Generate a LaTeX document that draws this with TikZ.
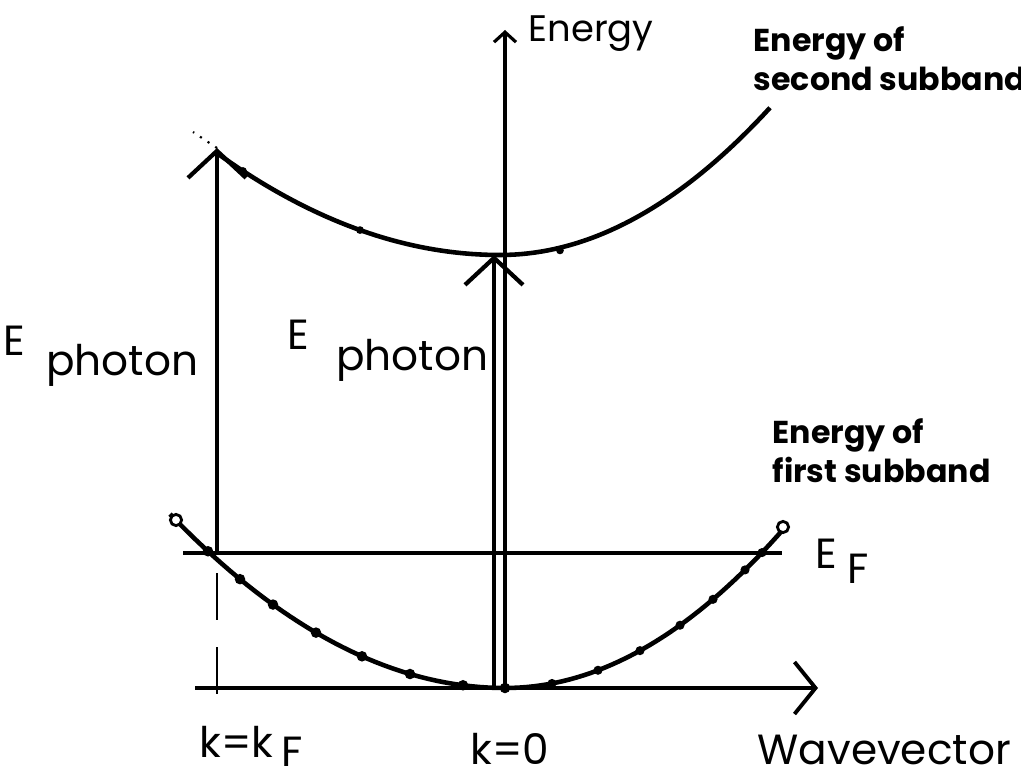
\documentclass[tikz,border=0pt]{standalone}
\usepackage{fontspec}
\setmainfont{Poppins}
\usetikzlibrary{arrows.meta}

\begin{document}
\begin{tikzpicture}[x=0.01cm, y=-0.01cm,
    band/.style={line width=1.3pt},
    axisline/.style={line width=0.9pt},
    openhead/.style={-{Straight Barb[length=2.7mm, width=5.8mm, line width=1.2pt]}},
    photon/.style={line width=0.9pt, openhead},
    lab/.style={inner sep=0pt, font=\fontsize{12}{14}\selectfont},
    note/.style={inner sep=0pt, align=left, font=\bfseries\fontsize{9}{11.1}\selectfont}]
    \useasboundingbox (0,0) rectangle (1021,782);

    % 坐标点
    \coordinate (O) at (505,688);
    \coordinate (Etop) at (505,30);
    \coordinate (Xl) at (195,688);
    \coordinate (Xr) at (818,688);
    \coordinate (EFl) at (183,553);
    \coordinate (EFr) at (782,553);
    \coordinate (kFlow) at (217,553);
    \coordinate (kFtop) at (217,148);
    \coordinate (kFdot) at (193,132);
    \coordinate (dashA) at (217,573);
    \coordinate (dashB) at (217,710);
    \coordinate (Plow) at (494,688);
    \coordinate (Ptop) at (494,255);

    % 坐标轴
    \draw[axisline, -{Straight Barb[length=1mm, width=2.2mm, line width=0.9pt]}] (O) -- (Etop);
    \draw[axisline, -{Straight Barb[length=2.1mm, width=5.2mm, line width=1.1pt]}] (Xl) -- (Xr);

    % 费米能级
    \draw[axisline] (EFl) -- (EFr);
    \draw[line width=0.8pt, dash pattern=on 0.47cm off 0.27cm] (dashA) -- (dashB);

    % 第一子带
    \draw[band] plot[domain=170:505, samples=40] (\x, {688-15.5*((\x-505)/100)^2});
    \draw[band] plot[domain=505:785, samples=40] (\x, {688-20.5*((\x-505)/100)^2});
    \foreach \k in {208,240,273,316,362,410,463,505}
        \fill (\k, {688-15.5*((\k-505)/100)^2}) circle[radius=1.5pt];
    \foreach \k in {552,598,640,680,713,745,762}
        \fill (\k, {688-20.5*((\k-505)/100)^2}) circle[radius=1.3pt];
    \draw[line width=0.8pt, fill=white] (176,520) circle[radius=1.6pt];
    \draw[line width=0.8pt, fill=white] (783,527) circle[radius=1.6pt];

    % 第二子带
    \draw[band] plot[domain=217:500, samples=40] (\x, {255-12.72*((\x-500)/100)^2});
    \draw[band] plot[domain=500:770, samples=40] (\x, {255-20.2*((\x-500)/100)^2});
    \foreach \k in {243,360,560}
        \fill (\k, {255-12.72*((\k-500)/100)^2}) circle[radius=1.1pt];

    % 光子跃迁
    \draw[photon] (kFlow) -- (kFtop);
    \draw[photon] (Plow) -- (Ptop);
    \draw[dotted, line width=0.6pt] (kFtop) -- (kFdot);

    % 文字标注
    \node[lab, anchor=base west] (lblEnergy) at (528,42) {\fontsize{10.5}{12}\selectfont Energy};
    \node[note, anchor=north west] (lblSecond) at (753,26) {Energy of\\second subband};
    \node[note, anchor=north west] (lblFirst) at (772,418) {Energy of\\first subband};
    \node[lab, anchor=base west] (lblPhotonL) at (3,355) {E\hspace{0.21cm}\raisebox{-0.2cm}{photon}};
    \node[lab, anchor=base west] (lblPhotonM) at (287,350) {E\hspace{0.27cm}\raisebox{-0.2cm}{photon}};
    \node[lab, anchor=base west] (lblEF) at (815,568) {E\hspace{0.1cm}\raisebox{-0.15cm}{F}};
    \node[lab, anchor=base west] (lblkF) at (199,757) {k=k\hspace{0.08cm}\raisebox{-0.09cm}{F}};
    \node[lab, anchor=base west] (lblkZero) at (470,764) {k=0};
    \node[lab, anchor=base west] (lblWave) at (757,764) {Wavevector};
\end{tikzpicture}
\end{document}
